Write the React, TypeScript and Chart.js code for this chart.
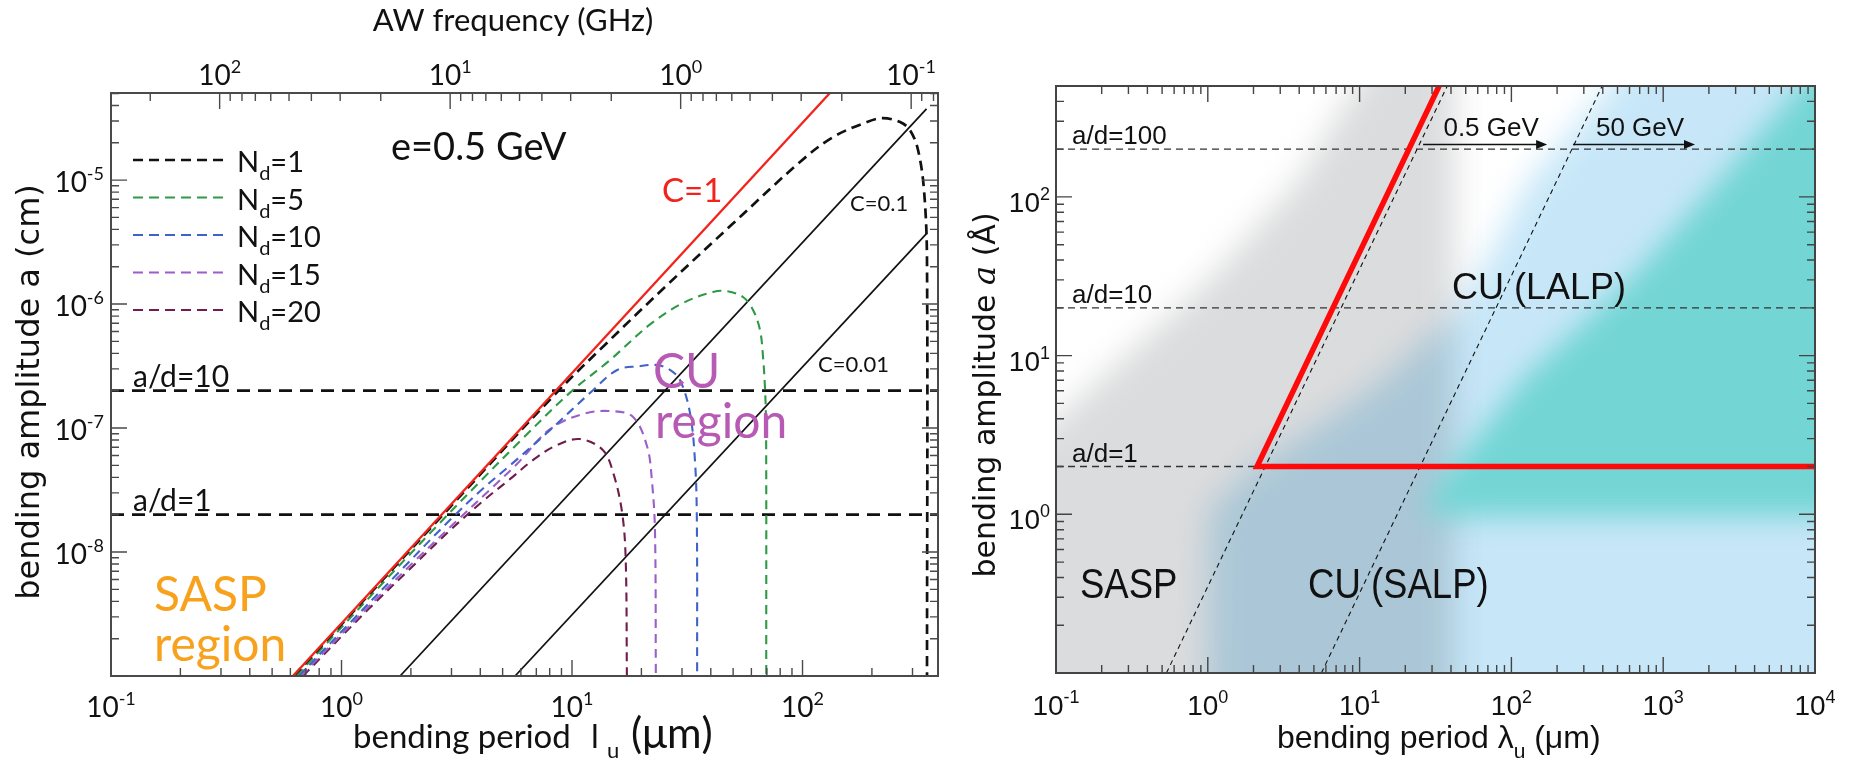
import React, { useEffect, useRef } from "react";
import { Chart, registerables } from "chart.js";

Chart.register(...registerables);

type Pt = { x: number; y: number };

// ================= Left panel: e = 0.5 GeV =================
const leftPeriodRange = [0.1, 387]; // bending period (um)
const leftAmplitudeRange = [1e-9, 5.04e-5]; // bending amplitude (cm)
const ghzTimesMicron = 29.6; // AW frequency (GHz) = ghzTimesMicron / period(um)
const leftBottomDecades = [-1, 0, 1, 2];
const leftTopDecades = [2, 1, 0, -1];
const leftYDecades = [-8, -7, -6, -5];

const c1Line: Pt[] = [
  { x: 0.616, y: 1e-9 },
  { x: 131.5, y: 5.04e-5 },
];
const c01Line: Pt[] = [
  { x: 1.795, y: 1e-9 },
  { x: 345, y: 3.75e-5 },
];
const c001Line: Pt[] = [
  { x: 5.66, y: 1e-9 },
  { x: 345, y: 3.7e-6 },
];

const nd1Curve: Pt[] = [
  { x: 0.62, y: 1e-9 }, { x: 2.7, y: 1.92e-8 }, { x: 8.5, y: 1.9e-7 },
  { x: 14.2, y: 4.88e-7 }, { x: 25.8, y: 1.42e-6 }, { x: 49.9, y: 4.46e-6 },
  { x: 97.5, y: 1.4e-5 }, { x: 135.5, y: 2.22e-5 }, { x: 190.5, y: 2.94e-5 },
  { x: 223, y: 3.16e-5 }, { x: 265, y: 2.94e-5 }, { x: 292.6, y: 2.53e-5 },
  { x: 317, y: 1.75e-5 }, { x: 336.5, y: 8.3e-6 }, { x: 346.7, y: 2.26e-6 },
  { x: 346.8, y: 1e-9 },
];
const nd5Curve: Pt[] = [
  { x: 0.637, y: 1e-9 }, { x: 1.5, y: 5.55e-9 }, { x: 2.6, y: 1.63e-8 },
  { x: 4.0, y: 3.72e-8 }, { x: 6.0, y: 7.96e-8 }, { x: 9.8, y: 1.93e-7 },
  { x: 14.6, y: 3.53e-7 }, { x: 21.8, y: 6.85e-7 }, { x: 30.3, y: 1.02e-6 },
  { x: 40.9, y: 1.25e-6 }, { x: 47, y: 1.27e-6 }, { x: 55.2, y: 1.14e-6 },
  { x: 61, y: 8.95e-7 }, { x: 65.4, y: 6.17e-7 }, { x: 67.4, y: 3.74e-7 },
  { x: 68.8, y: 2.02e-7 }, { x: 69.5, y: 1e-7 }, { x: 69.6, y: 1e-9 },
];
const nd10Curve: Pt[] = [
  { x: 0.652, y: 1e-9 }, { x: 1.1, y: 2.74e-9 }, { x: 1.8, y: 7.06e-9 },
  { x: 2.96, y: 1.82e-8 }, { x: 4.1, y: 3.24e-8 }, { x: 5.4, y: 5.02e-8 },
  { x: 8.0, y: 9.57e-8 }, { x: 12.3, y: 2.01e-7 }, { x: 15.7, y: 2.94e-7 },
  { x: 19.5, y: 3.15e-7 }, { x: 23.4, y: 3.22e-7 }, { x: 26.6, y: 2.94e-7 },
  { x: 29.4, y: 2.44e-7 }, { x: 32.5, y: 1.32e-7 }, { x: 34.2, y: 5.22e-8 },
  { x: 34.8, y: 1.81e-8 }, { x: 34.9, y: 1e-9 },
];
const nd15Curve: Pt[] = [
  { x: 0.667, y: 1e-9 }, { x: 1.29, y: 3.52e-9 }, { x: 2.13, y: 8.85e-9 },
  { x: 3.17, y: 1.79e-8 }, { x: 4.41, y: 3.19e-8 }, { x: 5.77, y: 5.13e-8 },
  { x: 8.03, y: 9.8e-8 }, { x: 11.17, y: 1.3e-7 }, { x: 14.6, y: 1.37e-7 },
  { x: 18.4, y: 1.23e-7 }, { x: 21.2, y: 7.03e-8 }, { x: 22.2, y: 3.81e-8 },
  { x: 22.9, y: 1.5e-8 }, { x: 23.1, y: 1e-9 },
];
const nd20Curve: Pt[] = [
  { x: 0.68, y: 1e-9 }, { x: 1.29, y: 3.37e-9 }, { x: 1.98, y: 7.3e-9 },
  { x: 2.96, y: 1.5e-8 }, { x: 4.11, y: 2.58e-8 }, { x: 5.38, y: 3.87e-8 },
  { x: 6.77, y: 5.52e-8 }, { x: 8.44, y: 7.16e-8 }, { x: 10.8, y: 8.15e-8 },
  { x: 13.6, y: 6.65e-8 }, { x: 15.1, y: 4.34e-8 }, { x: 16.5, y: 2.07e-8 },
  { x: 17.1, y: 8.6e-9 }, { x: 17.3, y: 1e-9 },
];
const ndValues = ["1", "5", "10", "15", "20"];
const ndColors = ["#111111", "#2f9a45", "#3f63c8", "#9a5fc8", "#6e1d4c"];
const adLeftLevels = [2e-7, 2e-8];
const adLeftLabels = ["a/d=10", "a/d=1"];

// ================= Right panel =================
const rightPeriodRange = [0.1, 1e4]; // um
const rightAmplitudeRange = [0.1, 500]; // Angstrom
const rightXDecades = [-1, 0, 1, 2, 3, 4];
const rightYDecades = [0, 1, 2];

const criticalBoundary: Pt[] = [
  { x: 33.4, y: 500 },
  { x: 2.11, y: 2 },
  { x: 1e4, y: 2 },
];
const line05GeV: Pt[] = [
  { x: 0.534, y: 0.1 },
  { x: 37.8, y: 500 },
];
const line50GeV: Pt[] = [
  { x: 5.6, y: 0.1 },
  { x: 396, y: 500 },
];
const adRightLevels = [200, 20, 2];
const adRightLabels = ["a/d=100", "a/d=10", "a/d=1"];
const energyArrows = [
  { label: "0.5 GeV", from: 26.2, to: 172, a: 214 },
  { label: "50 GeV", from: 255, to: 1620, a: 214 },
];
// shaded regions (blurred in the original figure)
const saspRegion: Pt[] = [
  { x: 0.01, y: 0.01 }, { x: 0.01, y: 0.54 }, { x: 0.195, y: 7.1 },
  { x: 1.03, y: 30.3 }, { x: 4.04, y: 129 }, { x: 7.43, y: 341 },
  { x: 15, y: 1050 }, { x: 15, y: 5000 }, { x: 42, y: 5000 }, { x: 42, y: 0.01 },
];
const cuRegion: Pt[] = [
  { x: 0.99, y: 0.01 }, { x: 1.0, y: 0.6 }, { x: 1.03, y: 1.07 }, { x: 1.9, y: 1.92 },
  { x: 5.48, y: 3.69 }, { x: 14.3, y: 7.1 }, { x: 42.5, y: 18.7 },
  { x: 78, y: 48.9 }, { x: 133, y: 129 }, { x: 384, y: 412 },
  { x: 703, y: 984 }, { x: 1500, y: 1e4 }, { x: 1e6, y: 1e4 }, { x: 1e6, y: 0.01 },
];
const lalpRegion: Pt[] = [
  { x: 30, y: 0.97 }, { x: 27, y: 1.07 }, { x: 33.9, y: 1.66 }, { x: 53.3, y: 2.68 },
  { x: 119, y: 7.1 }, { x: 604, y: 30.3 }, { x: 2366, y: 129 },
  { x: 14600, y: 984 }, { x: 5e4, y: 1e4 }, { x: 1e6, y: 1e4 }, { x: 1e6, y: 0.97 },
];

// ================= drawing helpers =================
const LATO = '"Lato", "Liberation Sans", sans-serif';
const HELV = '"Liberation Sans", Arial, sans-serif';
const DEJA = '"DejaVu Sans", Verdana, sans-serif';

type Seg = { t: string; font: string; dy?: number; color?: string; hs?: number };

function rich(ctx: CanvasRenderingContext2D, segs: Seg[], x: number, y: number, align: string) {
  let total = 0;
  const ws = segs.map((s) => {
    ctx.font = s.font;
    const w = ctx.measureText(s.t).width * (s.hs ?? 1);
    total += w;
    return w;
  });
  let cx = align === "center" ? x - total / 2 : align === "right" ? x - total : x;
  ctx.textAlign = "left";
  ctx.textBaseline = "alphabetic";
  segs.forEach((s, i) => {
    ctx.save();
    ctx.font = s.font;
    ctx.fillStyle = s.color ?? "#111";
    ctx.translate(cx, y + (s.dy ?? 0));
    ctx.scale(s.hs ?? 1, 1);
    ctx.fillText(s.t, 0, 0);
    ctx.restore();
    cx += ws[i];
  });
}

function powLabel(ctx: CanvasRenderingContext2D, exp: number, x: number, y: number, align: string, family: string, size: number) {
  const sup = Math.round(size * 0.64);
  rich(
    ctx,
    [
      { t: "10", font: `${size}px ${family}` },
      { t: String(exp), font: `${sup}px ${family}`, dy: -Math.round(size * 0.42) },
    ],
    x,
    y,
    align
  );
}

function logTickValues(min: number, max: number) {
  const out: { v: number; major: boolean }[] = [];
  const k0 = Math.floor(Math.log10(min));
  const k1 = Math.ceil(Math.log10(max));
  for (let k = k0; k <= k1; k++) {
    for (let m = 1; m <= 9; m++) {
      const v = m * Math.pow(10, k);
      if (v >= min * 0.999 && v <= max * 1.001) out.push({ v, major: m === 1 });
    }
  }
  return out;
}

function drawTicks(ctx: CanvasRenderingContext2D, scale: any, side: string, area: any, min: number, max: number) {
  ctx.beginPath();
  for (const t of logTickValues(min, max)) {
    const len = t.major ? 16 : 8;
    const p = scale.getPixelForValue(t.v);
    if (side === "bottom") { ctx.moveTo(p, area.bottom); ctx.lineTo(p, area.bottom - len); }
    if (side === "top") { ctx.moveTo(p, area.top); ctx.lineTo(p, area.top + len); }
    if (side === "left") { ctx.moveTo(area.left, p); ctx.lineTo(area.left + len, p); }
    if (side === "right") { ctx.moveTo(area.right, p); ctx.lineTo(area.right - len, p); }
  }
  ctx.stroke();
}

function ds(label: string, data: Pt[], color: string, width: number, dash: number[] = [], tension = 0) {
  return {
    label,
    data,
    showLine: true,
    borderColor: color,
    backgroundColor: color,
    borderWidth: width,
    borderDash: dash,
    pointRadius: 0,
    tension,
    fill: false,
  };
}

// ================= left chart =================
function leftConfig(): any {
  const [xmin, xmax] = leftPeriodRange;
  const [ymin, ymax] = leftAmplitudeRange;
  const ndCurves = [nd1Curve, nd5Curve, nd10Curve, nd15Curve, nd20Curve];
  const datasets: any[] = [
    ds("C=1", c1Line, "#f2231b", 2.3),
    ...ndCurves.map((c, i) => ds("Nd=" + ndValues[i], c, ndColors[i], i === 0 ? 2.7 : 2.1, i === 0 ? [10, 6] : [9, 6], 0.35)),
    ds("C=0.1", c01Line, "#111", 1.7),
    ds("C=0.01", c001Line, "#111", 1.7),
    ...adLeftLevels.map((v, i) =>
      ds(adLeftLabels[i], [{ x: xmin, y: v }, { x: xmax, y: v }], "#111", 2.8, [13, 8])
    ),
  ];
  const deco = {
    id: "leftDeco",
    beforeDraw(chart: any) {
      const ctx = chart.ctx;
      ctx.save();
      ctx.fillStyle = "#fff";
      ctx.fillRect(0, 0, chart.width, chart.height);
      ctx.restore();
    },
    afterDraw(chart: any) {
      const ctx: CanvasRenderingContext2D = chart.ctx;
      const a = chart.chartArea;
      const sx = chart.scales.x, sy = chart.scales.y, sf = chart.scales.xf;
      ctx.save();
      ctx.strokeStyle = "#4a4a4a";
      ctx.lineWidth = 2;
      ctx.strokeRect(a.left, a.top, a.right - a.left, a.bottom - a.top);
      ctx.lineWidth = 1.4;
      drawTicks(ctx, sx, "bottom", a, xmin, xmax);
      drawTicks(ctx, sf, "top", a, ghzTimesMicron / xmax, ghzTimesMicron / xmin);
      drawTicks(ctx, sy, "left", a, ymin, ymax);
      drawTicks(ctx, sy, "right", a, ymin, ymax);
      // tick labels
      for (const k of leftBottomDecades) powLabel(ctx, k, sx.getPixelForValue(Math.pow(10, k)), a.bottom + 41, "center", LATO, 28);
      for (const k of leftTopDecades) powLabel(ctx, k, sf.getPixelForValue(Math.pow(10, k)), a.top - 8, "center", LATO, 28);
      for (const k of leftYDecades) powLabel(ctx, k, a.left - 7, sy.getPixelForValue(Math.pow(10, k)) + 12, "right", LATO, 28);
      // axis titles
      rich(ctx, [{ t: "AW frequency (GHz)", font: `31px ${LATO}` }], 513, 31, "center");
      rich(ctx, [{ t: "bending period", font: `33px ${LATO}` }], 353, 748, "left");
      rich(ctx, [{ t: "l", font: `33px ${LATO}` }], 591, 748, "left");
      rich(ctx, [{ t: "u", font: `22px ${LATO}` }], 607, 758, "left");
      rich(ctx, [{ t: "(\u03bcm)", font: `42px ${LATO}` }], 631, 748, "left");
      ctx.save();
      ctx.translate(39, 392);
      ctx.rotate(-Math.PI / 2);
      rich(ctx, [{ t: "bending amplitude a (cm)", font: `32px ${DEJA}` }], 0, 0, "center");
      ctx.restore();
      // legend
      ndValues.forEach((v, i) => {
        const y = 160 + i * 37.5;
        ctx.save();
        ctx.strokeStyle = ndColors[i];
        ctx.lineWidth = i === 0 ? 2.6 : 2.2;
        ctx.setLineDash([10, 6]);
        ctx.beginPath();
        ctx.moveTo(133, y);
        ctx.lineTo(224, y);
        ctx.stroke();
        ctx.restore();
        rich(
          ctx,
          [
            { t: "N", font: `29px ${LATO}` },
            { t: "d", font: `20px ${LATO}`, dy: 8 },
            { t: "=" + v, font: `29px ${LATO}` },
          ],
          237,
          y + 12,
          "left"
        );
      });
      // annotations
      rich(ctx, [{ t: "e=0.5 GeV", font: `38px ${LATO}` }], 391, 160, "left");
      rich(ctx, [{ t: "C=1", font: `33px ${LATO}`, color: "#f2231b" }], 662, 202, "left");
      rich(ctx, [{ t: "C=0.1", font: `22px ${LATO}` }], 850, 211, "left");
      rich(ctx, [{ t: "C=0.01", font: `22px ${LATO}` }], 818, 372, "left");
      rich(ctx, [{ t: "CU", font: `48px ${LATO}`, color: "#b65ab4" }], 653, 388, "left");
      rich(ctx, [{ t: "region", font: `48px ${LATO}`, color: "#b65ab4" }], 655, 438, "left");
      rich(ctx, [{ t: "SASP", font: `48px ${LATO}`, color: "#f8a11c" }], 154, 611, "left");
      rich(ctx, [{ t: "region", font: `48px ${LATO}`, color: "#f8a11c" }], 154, 661, "left");
      rich(ctx, [{ t: adLeftLabels[0], font: `30px ${LATO}` }], 133, 387, "left");
      rich(ctx, [{ t: adLeftLabels[1], font: `30px ${LATO}` }], 133, 511, "left");
      ctx.restore();
    },
  };
  return {
    type: "scatter",
    data: { datasets },
    options: {
      responsive: false,
      animation: false,
      events: [],
      layout: { padding: { left: 111, right: 22, top: 93, bottom: 89 } },
      plugins: { legend: { display: false }, tooltip: { enabled: false } },
      scales: {
        x: { type: "logarithmic", min: xmin, max: xmax, display: false },
        y: { type: "logarithmic", min: ymin, max: ymax, display: false },
        xf: {
          type: "logarithmic",
          axis: "x",
          position: "top",
          reverse: true,
          min: ghzTimesMicron / xmax,
          max: ghzTimesMicron / xmin,
          display: false,
        },
      },
    },
    plugins: [deco],
  };
}

// ================= right chart =================
function fillRegion(ctx: CanvasRenderingContext2D, pts: Pt[], sx: any, sy: any, color: string) {
  ctx.beginPath();
  pts.forEach((p, i) => {
    const X = sx.getPixelForValue(p.x);
    const Y = sy.getPixelForValue(p.y);
    if (i === 0) ctx.moveTo(X, Y);
    else ctx.lineTo(X, Y);
  });
  ctx.closePath();
  ctx.fillStyle = color;
  ctx.fill();
}

function rightConfig(): any {
  const [xmin, xmax] = rightPeriodRange;
  const [ymin, ymax] = rightAmplitudeRange;
  const datasets: any[] = [
    ds("critical", criticalBoundary, "#ff0a0a", 5.5),
    ds("0.5 GeV", line05GeV, "#111", 1.1, [5, 4]),
    ds("50 GeV", line50GeV, "#111", 1.1, [5, 4]),
    ...adRightLevels.map((v, i) =>
      ds(adRightLabels[i], [{ x: xmin, y: v }, { x: xmax, y: v }], "#333", 1.4, [7, 5])
    ),
  ];
  const deco = {
    id: "rightDeco",
    beforeDraw(chart: any) {
      const ctx = chart.ctx;
      ctx.save();
      ctx.fillStyle = "#fff";
      ctx.fillRect(0, 0, chart.width, chart.height);
      ctx.restore();
    },
    beforeDatasetsDraw(chart: any) {
      const ctx: CanvasRenderingContext2D = chart.ctx;
      const a = chart.chartArea;
      const sx = chart.scales.x, sy = chart.scales.y;
      ctx.save();
      ctx.beginPath();
      ctx.rect(a.left, a.top, a.right - a.left, a.bottom - a.top);
      ctx.clip();
      ctx.filter = "blur(16px)";
      fillRegion(ctx, saspRegion, sx, sy, "rgb(219,220,221)");
      ctx.globalCompositeOperation = "multiply";
      fillRegion(ctx, cuRegion, sx, sy, "rgb(199,231,248)");
      ctx.globalCompositeOperation = "source-over";
      ctx.filter = "blur(14px)";
      fillRegion(ctx, lalpRegion, sx, sy, "rgb(115,213,212)");
      ctx.restore();
    },
    afterDraw(chart: any) {
      const ctx: CanvasRenderingContext2D = chart.ctx;
      const a = chart.chartArea;
      const sx = chart.scales.x, sy = chart.scales.y;
      ctx.save();
      ctx.strokeStyle = "#444";
      ctx.lineWidth = 2;
      ctx.strokeRect(a.left, a.top, a.right - a.left, a.bottom - a.top);
      ctx.lineWidth = 1.4;
      drawTicks(ctx, sx, "bottom", a, xmin, xmax);
      drawTicks(ctx, sx, "top", a, xmin, xmax);
      drawTicks(ctx, sy, "left", a, ymin, ymax);
      drawTicks(ctx, sy, "right", a, ymin, ymax);
      for (const k of rightXDecades) powLabel(ctx, k, sx.getPixelForValue(Math.pow(10, k)), a.bottom + 42, "center", HELV, 28);
      for (const k of rightYDecades) powLabel(ctx, k, a.left - 6, sy.getPixelForValue(Math.pow(10, k)) + 15, "right", HELV, 28);
      // titles
      rich(
        ctx,
        [
          { t: "bending period \u03bb", font: `32px ${HELV}` },
          { t: "u", font: `21px ${HELV}`, dy: 10 },
          { t: " (\u03bcm)", font: `32px ${HELV}` },
        ],
        317,
        748,
        "left"
      );
      ctx.save();
      ctx.translate(35, 395);
      ctx.rotate(-Math.PI / 2);
      rich(
        ctx,
        [
          { t: "bending amplitude ", font: `30px ${DEJA}` },
          { t: "a", font: `italic 32px "DejaVu Serif", serif` },
          { t: " (\u00c5)", font: `30px ${DEJA}` },
        ],
        0,
        0,
        "center"
      );
      ctx.restore();
      // a/d labels
      adRightLevels.forEach((v, i) => {
        rich(ctx, [{ t: adRightLabels[i], font: `26px ${HELV}` }], a.left + 16, sy.getPixelForValue(v) - 5, "left");
      });
      // energy arrows
      ctx.strokeStyle = "#111";
      ctx.fillStyle = "#111";
      ctx.lineWidth = 1.6;
      for (const e of energyArrows) {
        const x1 = sx.getPixelForValue(e.from);
        const x2 = sx.getPixelForValue(e.to);
        const y = sy.getPixelForValue(e.a);
        ctx.beginPath();
        ctx.moveTo(x1, y);
        ctx.lineTo(x2 - 8, y);
        ctx.stroke();
        ctx.beginPath();
        ctx.moveTo(x2, y);
        ctx.lineTo(x2 - 11, y - 4.5);
        ctx.lineTo(x2 - 11, y + 4.5);
        ctx.closePath();
        ctx.fill();
        rich(ctx, [{ t: e.label, font: `26px ${HELV}` }], (x1 + x2) / 2 + 6, y - 8, "center");
      }
      // region labels
      rich(ctx, [{ t: "CU (LALP)", font: `36px ${HELV}` }], 492, 299, "left");
      rich(ctx, [{ t: "SASP", font: `42px ${HELV}`, hs: 0.87 }], 120, 598, "left");
      rich(ctx, [{ t: "CU (SALP)", font: `42px ${HELV}`, hs: 0.87 }], 348, 598, "left");
      ctx.restore();
    },
  };
  return {
    type: "scatter",
    data: { datasets },
    options: {
      responsive: false,
      animation: false,
      events: [],
      layout: { padding: { left: 96, right: 34, top: 86, bottom: 92 } },
      plugins: { legend: { display: false }, tooltip: { enabled: false } },
      scales: {
        x: { type: "logarithmic", min: xmin, max: xmax, display: false },
        y: { type: "logarithmic", min: ymin, max: ymax, display: false },
      },
    },
    plugins: [deco],
  };
}

export default function App() {
  const leftRef = useRef<HTMLCanvasElement>(null);
  const rightRef = useRef<HTMLCanvasElement>(null);
  useEffect(() => {
    const c1 = new Chart(leftRef.current as HTMLCanvasElement, leftConfig());
    const c2 = new Chart(rightRef.current as HTMLCanvasElement, rightConfig());
    return () => {
      c1.destroy();
      c2.destroy();
    };
  }, []);
  return (
    <div style={{ position: "absolute", left: 0, top: 0, width: 1849, height: 765, background: "#fff" }}>
      <canvas
        ref={leftRef}
        width={960}
        height={765}
        style={{ position: "absolute", left: 0, top: 0, width: 960, height: 765 }}
      />
      <canvas
        ref={rightRef}
        width={889}
        height={765}
        style={{ position: "absolute", left: 960, top: 0, width: 889, height: 765 }}
      />
    </div>
  );
}
